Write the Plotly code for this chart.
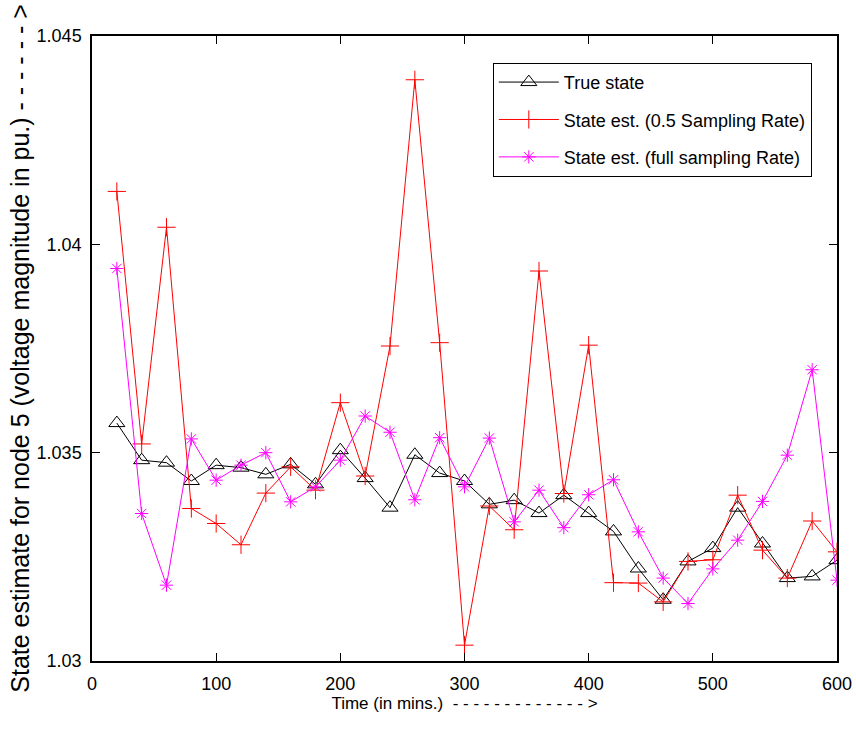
import plotly.graph_objects as go

time_min = [20, 40, 60, 80, 100, 120, 140, 160, 180, 200, 220, 240, 260, 280, 300,
            320, 340, 360, 380, 400, 420, 440, 460, 480, 500, 520, 540, 560, 580, 600]

true_state = [1.03571, 1.03482, 1.03476, 1.03432, 1.03470, 1.03464, 1.03448, 1.03472, 1.03424, 1.03506,
              1.03439, 1.03368, 1.03495, 1.03451, 1.03432, 1.03376, 1.03386, 1.03355, 1.03398, 1.03355,
              1.03311, 1.03222, 1.03147, 1.03239, 1.03271, 1.03368, 1.03282, 1.03199, 1.03203, 1.03242]

est_half = [1.04127, 1.03521, 1.04041, 1.03366, 1.03330, 1.03279, 1.03403, 1.03466, 1.03410, 1.03620,
            1.03444, 1.03756, 1.04395, 1.03764, 1.03038, 1.03372, 1.03315, 1.03936, 1.03402, 1.03758,
            1.03188, 1.03187, 1.03142, 1.03239, 1.03243, 1.03398, 1.03266, 1.03199, 1.03336, 1.03262]

est_full = [1.03942, 1.03354, 1.03182, 1.03533, 1.03434, 1.03470, 1.03500, 1.03382, 1.03418, 1.03482,
            1.03588, 1.03549, 1.03387, 1.03536, 1.03418, 1.03535, 1.03334, 1.03410, 1.03320, 1.03399,
            1.03435, 1.03310, 1.03199, 1.03138, 1.03221, 1.03290, 1.03383, 1.03494, 1.03699, 1.03194]

series_names = ["True state", "State est. (0.5 Sampling Rate)", "State est. (full sampling Rate)"]

x_tickvals = [0, 100, 200, 300, 400, 500, 600]
x_ticktext = ["0", "100", "200", "300", "400", "500", "600"]
y_tickvals = [1.03, 1.035, 1.04, 1.045]
y_ticktext = ["1.03", "1.035", "1.04", "1.045"]

x_title = "Time (in mins.)  - - - - - - - - - - - - - >"
y_title = "State estimate for node 5 (voltage magnitude in pu.) - - - - - - >"

FONT = "Liberation Sans, Arial, sans-serif"

fig = go.Figure()
fig.add_trace(go.Scatter(
    x=time_min, y=true_state, name=series_names[0], mode="lines+markers",
    line=dict(color="black", width=1),
    marker=dict(symbol="triangle-up-open", size=14, color="black", line=dict(width=1, color="black")),
    legendgroup="a"))
fig.add_trace(go.Scatter(
    x=time_min, y=est_half, name=series_names[1], mode="lines+markers",
    line=dict(color="red", width=1),
    marker=dict(symbol="cross-thin-open", size=13, color="red", line=dict(width=1, color="red")),
    legendgroup="b"))
fig.add_trace(go.Scatter(
    x=time_min, y=est_full, name=series_names[2], mode="lines+markers",
    line=dict(color="magenta", width=1),
    marker=dict(symbol="asterisk-open", size=11, color="magenta", line=dict(width=1, color="magenta")),
    legendgroup="c"))

axis_common = dict(showgrid=False, zeroline=False, showline=True, linecolor="black", linewidth=1.5,
                   mirror="ticks", ticks="inside", ticklen=8, tickcolor="black", tickwidth=1,
                   tickfont=dict(family=FONT, size=18, color="black"))

fig.update_xaxes(range=[0, 600], tickvals=x_tickvals, ticktext=x_ticktext,
                 ticklabelstandoff=6,
                 title=dict(text=x_title, font=dict(family=FONT, size=17, color="black"), standoff=3),
                 **axis_common)
fig.update_yaxes(range=[1.03, 1.045], tickvals=y_tickvals, ticktext=y_ticktext,
                 ticklabelstandoff=5,
                 title=dict(text=y_title, font=dict(family=FONT, size=25, color="black"), standoff=0),
                 **axis_common)

fig.update_layout(
    width=856, height=732,
    margin=dict(l=92, r=19, t=36, b=71, autoexpand=False),
    paper_bgcolor="white", plot_bgcolor="white",
    showlegend=True,
    legend=dict(x=0.538, y=0.957, xanchor="left", yanchor="top",
                bgcolor="white", bordercolor="black", borderwidth=1,
                font=dict(family=FONT, size=18, color="black"),
                itemwidth=60, tracegroupgap=11, traceorder="grouped"),
)

fig.write_html("out.html")
